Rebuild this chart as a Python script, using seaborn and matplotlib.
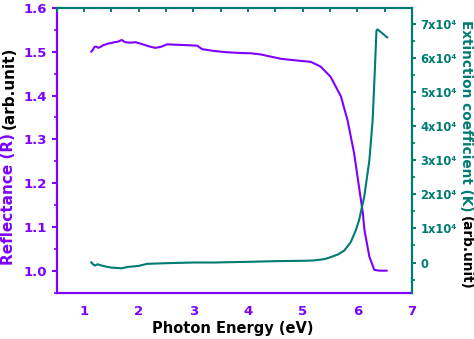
import numpy as np
import pandas as pd
import matplotlib
matplotlib.use("Agg")
import matplotlib.pyplot as plt
import seaborn as sns
from matplotlib.ticker import MultipleLocator, FixedLocator, FixedFormatter

# Reflectance spectrum (left axis)
energy_r = [1.13, 1.16, 1.19, 1.22, 1.26, 1.30, 1.35, 1.40, 1.45, 1.50, 1.56, 1.62, 1.69,
            1.75, 1.82, 1.88, 1.94, 2.02, 2.10, 2.20, 2.30, 2.40, 2.52, 2.70, 2.90,
            3.07, 3.16, 3.37, 3.60, 3.90, 4.05, 4.23, 4.60, 4.90, 5.15, 5.33, 5.51,
            5.70, 5.82, 5.94, 6.03, 6.10, 6.13, 6.22, 6.31, 6.40, 6.54]
reflectance = [1.500, 1.504, 1.511, 1.512, 1.509, 1.511, 1.515, 1.517, 1.519, 1.520, 1.522, 1.523, 1.527,
               1.522, 1.521, 1.521, 1.522, 1.519, 1.516, 1.512, 1.509, 1.511, 1.517, 1.516, 1.515,
               1.514, 1.506, 1.502, 1.499, 1.497, 1.4966, 1.494, 1.484, 1.480, 1.477, 1.466, 1.443,
               1.398, 1.344, 1.269, 1.192, 1.132, 1.093, 1.032, 1.002, 1.000, 1.000]

# Extinction coefficient spectrum (right axis)
energy_k = [1.13, 1.17, 1.20, 1.25, 1.30, 1.40, 1.50, 1.60, 1.69, 1.80, 2.00, 2.15, 2.50,
            3.00, 3.37, 4.00, 4.50, 5.00, 5.20, 5.40, 5.51, 5.65, 5.76, 5.88, 5.97,
            6.03, 6.125, 6.22, 6.28, 6.32, 6.35, 6.37, 6.55]
extinction = [100, -600, -900, -500, -800, -1200, -1500, -1600, -1700, -1300, -1000, -400, -200,
              0, 0, 200, 400, 500, 600, 1000, 1560, 2400, 3500, 6000, 9400,
              12350, 19200, 30000, 41800, 56500, 68200, 68500, 66100]

x_ticks = [1, 2, 3, 4, 5, 6, 7]
r_ticks = [1.0, 1.1, 1.2, 1.3, 1.4, 1.5, 1.6]
k_ticks = [0, 10000, 20000, 30000, 40000, 50000, 60000, 70000]
k_tick_labels = ["0", "1x10\u2074", "2x10\u2074", "3x10\u2074", "4x10\u2074",
                 "5x10\u2074", "6x10\u2074", "7x10\u2074"]

PURPLE = "#7f00ff"
TEAL = "#007b73"

sns.set_style("white")
plt.rcParams["font.family"] = ["DejaVu Sans"]
plt.rcParams["font.weight"] = "bold"

fig = plt.figure(figsize=(4.74, 3.39), dpi=100)
ax = fig.add_axes([0.1196, 0.1357, 0.8692 - 0.1196, 0.9764 - 0.1357])
ax2 = ax.twinx()

df_r = pd.DataFrame({"energy": energy_r, "R": reflectance})
df_k = pd.DataFrame({"energy": energy_k, "K": extinction})
sns.lineplot(data=df_r, x="energy", y="R", ax=ax, color=PURPLE, lw=1.5, estimator=None)
sns.lineplot(data=df_k, x="energy", y="K", ax=ax2, color=TEAL, lw=1.5, estimator=None)

ax.set_xlim(0.5, 7)
ax.set_ylim(0.949, 1.6)
ax2.set_ylim(-8960, 74790)
for a in (ax, ax2):
    a.set_xlabel("")
    a.set_ylabel("")

ax.xaxis.set_major_locator(FixedLocator(x_ticks))
ax.xaxis.set_minor_locator(MultipleLocator(0.5))
ax.yaxis.set_major_locator(FixedLocator(r_ticks))
ax.yaxis.set_minor_locator(MultipleLocator(0.05))
ax.yaxis.set_major_formatter(FixedFormatter([f"{v:.1f}" for v in r_ticks]))
ax2.yaxis.set_major_locator(FixedLocator(k_ticks))
ax2.yaxis.set_major_formatter(FixedFormatter(k_tick_labels))
ax2.yaxis.set_minor_locator(MultipleLocator(5000))

# spines
for side in ("top", "right"):
    ax.spines[side].set_visible(False)
for side in ("left", "bottom"):
    ax.spines[side].set_color(PURPLE)
    ax.spines[side].set_linewidth(1.6)
    ax2.spines[side].set_visible(False)
for side in ("top", "right"):
    ax2.spines[side].set_color(TEAL)
    ax2.spines[side].set_linewidth(1.6)

# ticks
ax.tick_params(axis="x", which="major", direction="out", length=3, width=1.4,
               color=PURPLE, labelcolor=PURPLE, labelsize=9.5, pad=6, top=False)
ax.tick_params(axis="x", which="minor", direction="out", length=2, width=1.2,
               color=PURPLE, top=False)
ax.tick_params(axis="y", which="major", direction="out", length=3.5, width=1.4,
               color=PURPLE, labelcolor=PURPLE, labelsize=9.5, pad=3.5, right=False)
ax.tick_params(axis="y", which="minor", direction="out", length=2, width=1.2,
               color=PURPLE, right=False)
ax2.tick_params(axis="y", which="major", direction="out", length=3, width=1.4,
                color=TEAL, labelcolor=TEAL, labelsize=8.3, pad=3, left=False)
ax2.tick_params(axis="y", which="minor", direction="out", length=2, width=1.2,
                color=TEAL, left=False)
ax2.xaxis.set_visible(True)
ax2.tick_params(axis="x", which="both", direction="in", length=3, width=1.4, color=TEAL,
                top=True, bottom=False, labeltop=False, labelbottom=False)

fig.text(233 / 474, 1 - 333 / 339, "Photon Energy (eV)",
         ha="center", va="baseline", fontsize=10.5, fontweight="bold", color="black")

# two-colour axis titles
fig.canvas.draw()
renderer = fig.canvas.get_renderer()
W, H = fig.bbox.width, fig.bbox.height

t_left = fig.text(9 / W, 1 - 265 / H, "Reflectance (R)", rotation=90, ha="center",
                  va="bottom", fontsize=11, fontweight="bold", color=PURPLE)
bb = t_left.get_window_extent(renderer)
fig.text(9 / W, (bb.y1 + 4) / H, "(arb.unit)", rotation=90, ha="center",
         va="bottom", fontsize=11, fontweight="bold", color="black")

t_right = fig.text(466 / W, 1 - 20 / H, "Extinction coefficient (K)", rotation=-90,
                   ha="center", va="top", fontsize=9.8, fontweight="bold", color=TEAL)
bb = t_right.get_window_extent(renderer)
fig.text(466 / W, (bb.y0 - 4) / H, "(arb.unit)", rotation=-90, ha="center",
         va="top", fontsize=9.8, fontweight="bold", color="black")

fig.savefig("out.png", dpi=100)
